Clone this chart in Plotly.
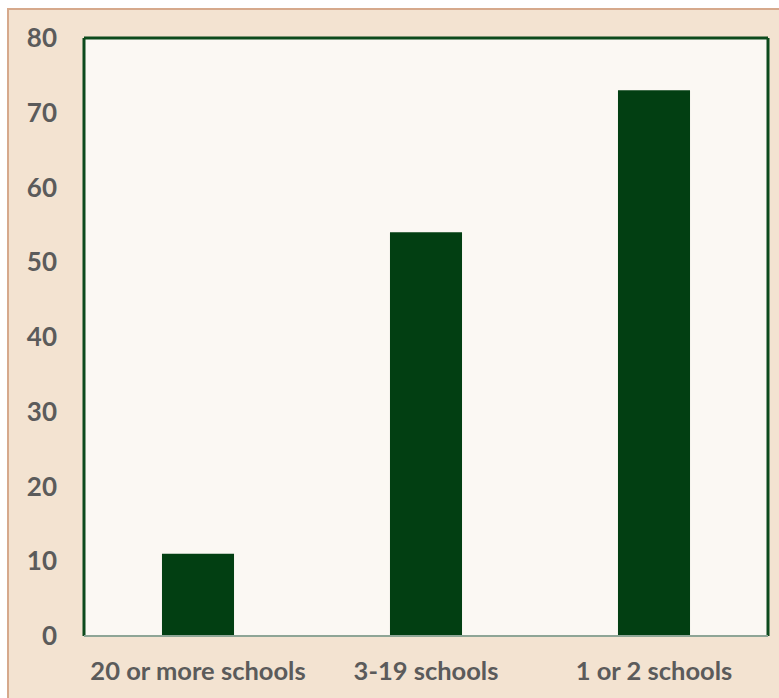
import plotly.graph_objects as go

# Number of districts by how many schools they operate
categories = ["20 or more schools", "3-19 schools", "1 or 2 schools"]
values = [11, 54, 73]
y_ticks = [0, 10, 20, 30, 40, 50, 60, 70, 80]

W, H = 779, 698
M_L, M_R, M_T, M_B = 84, 11, 38, 62
plot_w = W - M_L - M_R
plot_h = H - M_T - M_B

bar_color = "#023f12"
frame_green = "#0c4a1c"
label_grey = "#5b5b5b"

fig = go.Figure(
    go.Bar(
        x=categories,
        y=values,
        marker=dict(color=bar_color, line=dict(width=0)),
        hoverinfo="x+y",
    )
)

# Tan card behind the chart, running off the right and bottom edges
fig.add_shape(
    type="rect",
    xref="paper", yref="paper",
    x0=(8 - M_L) / plot_w, x1=(W + 10 - M_L) / plot_w,
    y0=-(M_B + 10) / plot_h, y1=1 + (M_T - 9) / plot_h,
    fillcolor="#f3e3d1",
    line=dict(color="#d6a98c", width=2),
    layer="below",
)
# Off-white plotting panel on top of the card
fig.add_shape(
    type="rect", xref="paper", yref="paper", x0=0, x1=1, y0=0, y1=1,
    fillcolor="#fbf8f3", line=dict(width=0), layer="below",
)
# Plot frame: dark green top/left/right, softer baseline
fig.add_shape(type="line", xref="paper", yref="paper", x0=0, x1=1, y0=1, y1=1,
              line=dict(color=frame_green, width=3), layer="above")
fig.add_shape(type="line", xref="paper", yref="paper", x0=0, x1=0, y0=0, y1=1,
              line=dict(color=frame_green, width=3), layer="above")
fig.add_shape(type="line", xref="paper", yref="paper", x0=1, x1=1, y0=0, y1=1,
              line=dict(color=frame_green, width=3), layer="above")
fig.add_shape(type="line", xref="paper", yref="paper", x0=0, x1=1, y0=0, y1=0,
              line=dict(color="#8ea596", width=2), layer="above")

fig.update_layout(
    width=W, height=H,
    margin=dict(l=M_L, r=M_R, t=M_T, b=M_B, pad=0),
    paper_bgcolor="#ffffff",
    plot_bgcolor="#fbf8f3",
    bargap=0.684,
    showlegend=False,
    font=dict(family="Lato", color=label_grey),
    xaxis=dict(
        showline=False, showgrid=False, zeroline=False, ticks="",
        tickfont=dict(family="Lato", size=25.5, color=label_grey, weight="bold"),
        ticklabelstandoff=17,
    ),
    yaxis=dict(
        range=[0, 80], tickvals=y_ticks, ticktext=[str(v) for v in y_ticks],
        showline=False, showgrid=False, zeroline=False, ticks="",
        tickfont=dict(family="Lato", size=26, color=label_grey, weight="bold"),
        ticklabelstandoff=26,
    ),
)

fig.write_html("out.html")
